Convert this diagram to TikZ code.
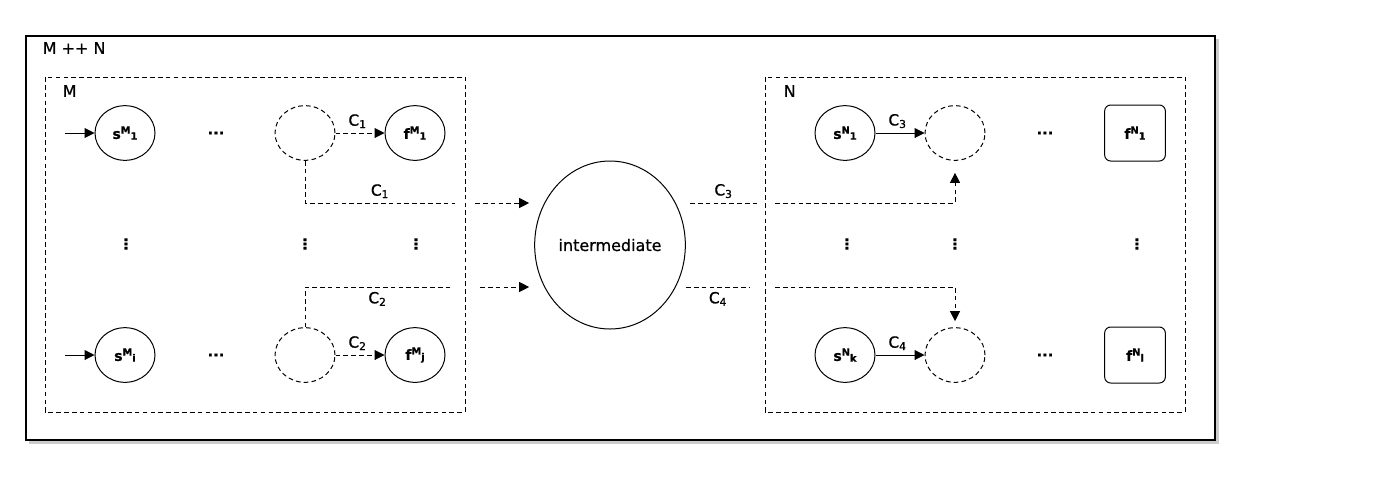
\documentclass[tikz,border=0pt]{standalone}
\usepackage{fontspec}
\setmainfont{DejaVu Sans}[RawFeature={embolden=0.8}]
\usetikzlibrary{shapes.geometric,arrows.meta,calc}
\newcommand{\lbl}[3]{\textbf{#1\textsuperscript{#2}\kern-0.05em\raisebox{-0.1ex}{\fontsize{7.5}{8}\selectfont #3}}}
\begin{document}
\begin{tikzpicture}[x=0.75pt,y=-0.75pt,
  every node/.style={font=\fontsize{12}{14}\selectfont},
  dsh/.style={dash pattern=on 3.5pt off 2.4pt, line width=0.75pt},
  tip/.style={-{Triangle[length=7.5pt,width=7.5pt]}},
  st/.style={draw, ellipse, line width=0.75pt, minimum width=45pt, minimum height=41pt, inner sep=0pt, font=\fontsize{10.5}{12}\selectfont},
  dst/.style={st, dsh},
  rst/.style={draw, rounded corners=4.5pt, line width=0.75pt, minimum width=45.5pt, minimum height=42pt, inner sep=0pt, font=\fontsize{10.5}{12}\selectfont},
  grp/.style={draw, dsh},
  dots/.style={font=\fontsize{11}{12}\selectfont\bfseries},
  clab/.style={font=\fontsize{11.5}{13}\selectfont}
]
\useasboundingbox (0,0) rectangle (1380,476);
% outer box with shadow
\fill[gray!40] (29,39) rectangle (1219,444);
\draw[line width=0.9pt, fill=white] (26,36) rectangle (1215,440);
\node[anchor=west] (tMN) at (38,48) {M ++ N};
% groups
\draw[grp] (45,77) rectangle (465,412);
\node[anchor=west] (tM) at (58,91) {M};
\draw[grp] (765,77) rectangle (1185,412);
\node[anchor=west] (tN) at (779,91) {N};

% left group nodes
\node[st] (sM1) at (125,133) {\lbl{s}{M}{1}};
\node[dots] (eM1) at (216,133) {...};
\node[dst] (dM1) at (305,133) {};
\node[st] (fM1) at (415,133) {\lbl{f}{M}{1}};
\node[st] (sMi) at (125,355) {\lbl{s}{M}{i}};
\node[dots] (eMi) at (216,355) {...};
\node[dst] (dM2) at (305,355) {};
\node[st] (fMj) at (415,355) {\lbl{f}{M}{j}};
\node[dots] (vM1) at (126,244) {⋮};
\node[dots] (vM2) at (305,244) {⋮};
\node[dots] (vM3) at (416,244) {⋮};

% intermediate
\node[draw, ellipse, line width=0.75pt, minimum width=113pt, minimum height=126pt, inner sep=0pt] (inter) at (610,245) {intermediate};

% right group nodes
\node[st] (sN1) at (845,133) {\lbl{s}{N}{1}};
\node[dst] (dN1) at (955,133) {};
\node[dots] (eN1) at (1045,133) {...};
\node[rst] (fN1) at (1135,133) {\lbl{f}{N}{1}};
\node[st] (sNk) at (845,355) {\lbl{s}{N}{k}};
\node[dst] (dN2) at (955,355) {};
\node[dots] (eN2) at (1045,355) {...};
\node[rst] (fNl) at (1135,355) {\lbl{f}{N}{l}};
\node[dots] (vN1) at (847,244) {⋮};
\node[dots] (vN2) at (955,244) {⋮};
\node[dots] (vN3) at (1137,244) {⋮};

% coordinates
\coordinate (inM1) at (65,133);
\coordinate (inMi) at (65,355);
\coordinate (a1) at (455,203);
\coordinate (a2) at (475,203);
\coordinate (b1) at (450,287);
\coordinate (b2) at (480,287);
\coordinate (c1) at (690,203);
\coordinate (c2) at (757,203);
\coordinate (c3) at (775,203);
\coordinate (d1) at (686,287);
\coordinate (d2) at (750,287);
\coordinate (d3) at (775,287);

% left connectors
\draw[line width=0.75pt, tip] (inM1) -- (sM1);
\draw[line width=0.75pt, tip] (inMi) -- (sMi);
\draw[dsh, tip] (dM1) -- node[above, clab, pos=0.45] {C\textsubscript{1}} (fM1);
\draw[dsh, tip] (dM2) -- node[above, clab, pos=0.45] {C\textsubscript{2}} (fMj);
\draw[dsh] (dM1.south) |- node[pos=0.75, above, clab] {C\textsubscript{1}} (a1);
\draw[dsh] (dM2.north) |- node[pos=0.75, below, clab] {C\textsubscript{2}} (b1);
\draw[dsh, tip] (a2) -- ($(inter.west)+(-5,-42)$);
\draw[dsh, tip] (b2) -- ($(inter.west)+(-5,42)$);

% right connectors
\draw[dsh] (c1) -- node[above, clab, pos=0.5] {C\textsubscript{3}} (c2);
\draw[dsh] (d1) -- node[below, clab, pos=0.5] {C\textsubscript{4}} (d2);
\draw[dsh, tip] (c3) -| ($(dN1.south)+(0,12)$);
\draw[dsh, tip] (d3) -| ($(dN2.north)+(0,-6)$);
\draw[line width=0.75pt, tip] (sN1) -- node[above, clab, pos=0.45] {C\textsubscript{3}} (dN1);
\draw[line width=0.75pt, tip] (sNk) -- node[above, clab, pos=0.45] {C\textsubscript{4}} (dN2);
\end{tikzpicture}
\end{document}
